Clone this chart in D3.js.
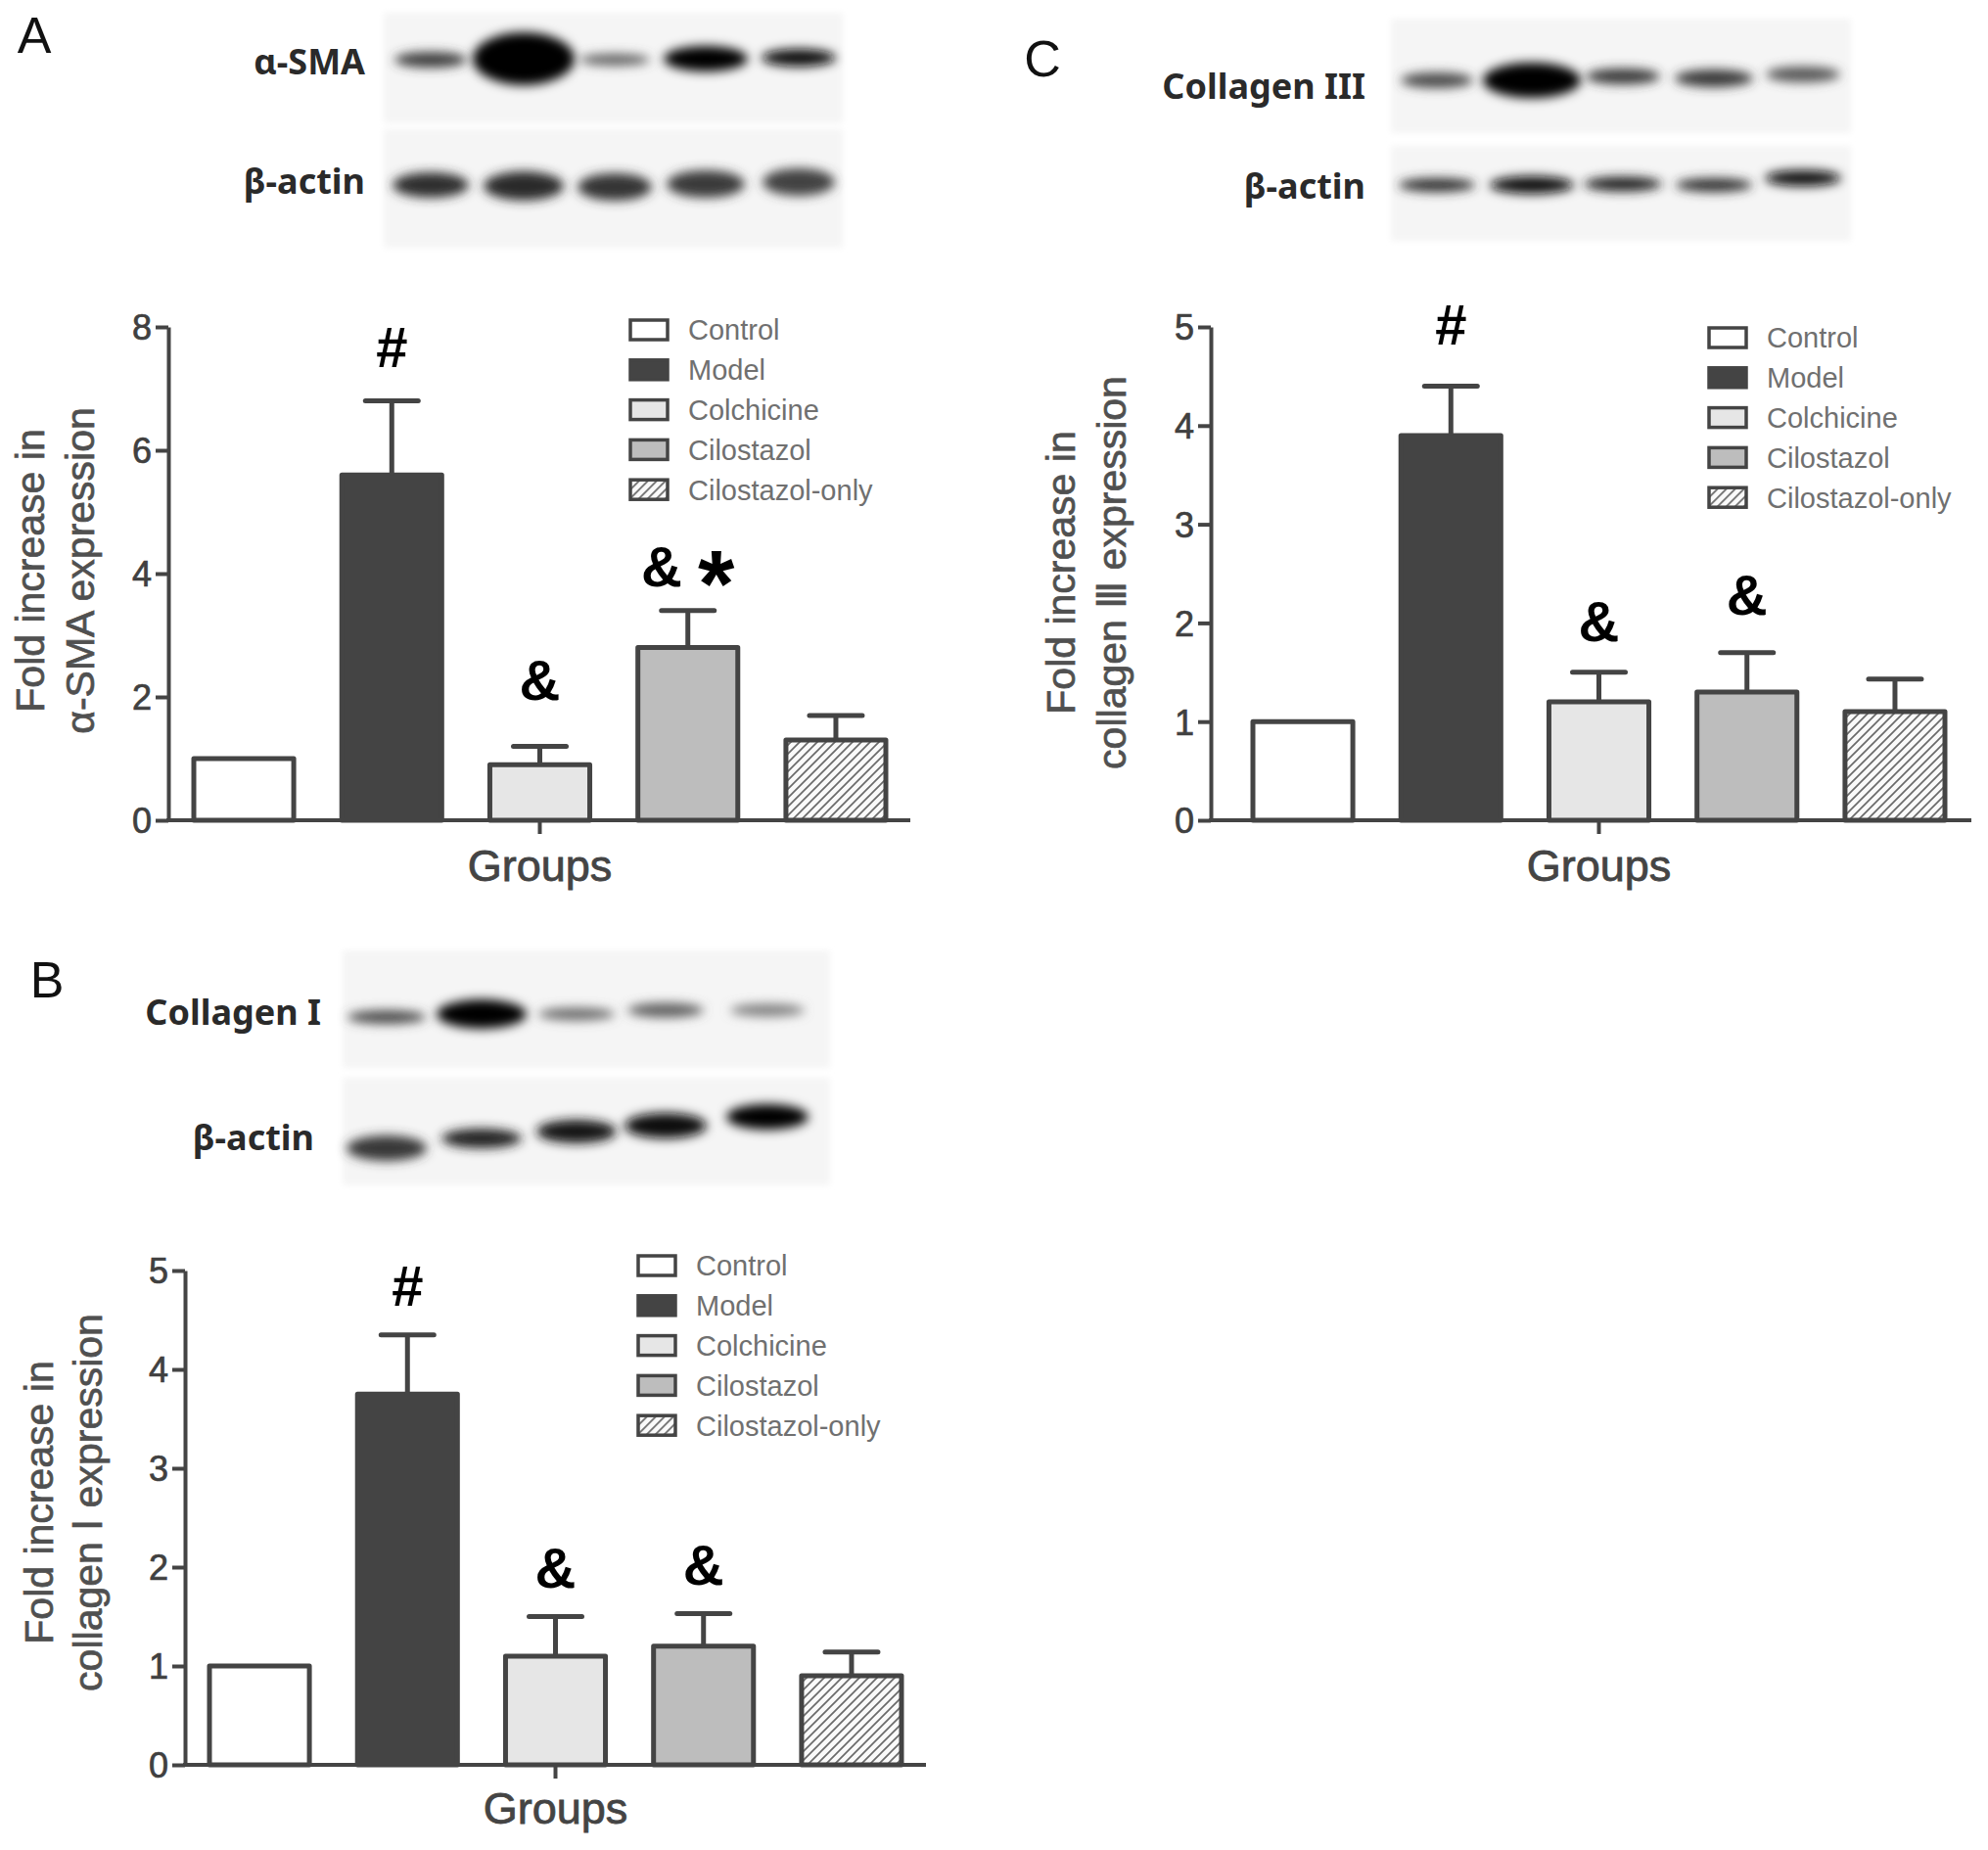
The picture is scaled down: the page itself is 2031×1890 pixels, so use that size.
<!DOCTYPE html>
<html>
<head>
<meta charset="utf-8">
<script src="https://cdn.jsdelivr.net/npm/d3@7"></script>
<style>
  html, body { margin: 0; padding: 0; background: #fff; }
  svg { display: block; }
</style>
</head>
<body>
<svg id="fig" width="2031" height="1890"></svg>
<script>
// ---------------- DATA ----------------
const groups = ["Control", "Model", "Colchicine", "Cilostazol", "Cilostazol-only"];

const smaMeans = [1.0, 5.6, 0.9, 2.8, 1.3];
const smaSem   = [0.0, 1.2, 0.3, 0.6, 0.4];
const smaTicks = [0, 2, 4, 6, 8];
const smaMarks = ["", "#", "&", "& *", ""];
const smaMarkLevels = [null, 7.35, 1.95, 3.8, null];

const col1Means = [1.0, 3.75, 1.1, 1.2, 0.9];
const col1Sem   = [0.0, 0.6, 0.4, 0.33, 0.24];
const col1Ticks = [0, 1, 2, 3, 4, 5];
const col1Marks = ["", "#", "&", "&", ""];
const col1MarkLevels = [null, 4.64, 1.79, 1.82, null];

const col3Means = [1.0, 3.9, 1.2, 1.3, 1.1];
const col3Sem   = [0.0, 0.5, 0.3, 0.4, 0.33];
const col3Ticks = [0, 1, 2, 3, 4, 5];
const col3Marks = ["", "#", "&", "&", ""];
const col3MarkLevels = [null, 4.82, 1.82, 2.08, null];

// western blot band intensities (relative darkness 0..1)
const smaBands      = [0.72, 1.0, 0.55, 1.0, 0.95];
const smaActin      = [0.8, 0.82, 0.76, 0.74, 0.7];
const col1Bands     = [0.65, 1.0, 0.5, 0.55, 0.4];
const col1Actin     = [0.75, 0.85, 0.9, 0.95, 1.0];
const col3Bands     = [0.65, 1.0, 0.75, 0.75, 0.6];
const col3Actin     = [0.8, 0.95, 0.85, 0.8, 0.95];

// ---------------- STYLE ----------------
const fills = ["#ffffff", "#444444", "#e6e6e6", "#bdbdbd", "url(#hatch)"];
const ink = "#444444";
const fontSans = "'Liberation Sans', Arial, Helvetica, sans-serif";
const fontBlot = "'Noto Sans', 'Open Sans', sans-serif";

const svg = d3.select("#fig");
svg.append("rect").attr("width", 2031).attr("height", 1890).attr("fill", "#fff");

const defs = svg.append("defs");
const pat = defs.append("pattern").attr("id", "hatch")
  .attr("patternUnits", "userSpaceOnUse").attr("width", 9).attr("height", 9);
pat.append("rect").attr("width", 9).attr("height", 9).attr("fill", "#fafafa");
pat.append("path").attr("d", "M-2,2 l4,-4 M0,9 l9,-9 M7,11 l4,-4")
  .attr("stroke", "#6a6a6a").attr("stroke-width", 1.7);

defs.append("filter").attr("id", "blur").attr("x", "-50%").attr("y", "-100%")
  .attr("width", "200%").attr("height", "300%")
  .append("feGaussianBlur").attr("stdDeviation", 5.5);
defs.append("filter").attr("id", "blurS").attr("x", "-20%").attr("y", "-20%")
  .attr("width", "140%").attr("height", "140%")
  .append("feGaussianBlur").attr("stdDeviation", 3);

// ---------------- PANELS ----------------
const panels = [
  {
    letter: "A", letterX: 35, letterY: 54,
    means: smaMeans, sem: smaSem, ticks: smaTicks, marks: smaMarks, markLevels: smaMarkLevels,
    axisX: 172, xEnd: 930, yTop: 334, yBot: 838, max: 8, band: [198, 905],
    legendX: 644, legendY: 337,
    titleLines: ["Fold increase in", "α-SMA expression"], titleX: [45, 96], titleCY: 583,
    groupsY: 900,
    blot: {
      x: 392, w: 469,
      strips: [{ y: 13, h: 113 }, { y: 132, h: 121 }],
      labels: [{ t: "α-SMA", x: 373, y: 76 }, { t: "β-actin", x: 373, y: 198 }],
      lanes: [440, 535, 628, 721, 816],
      rows: [
        { vals: smaBands, cy: [61, 60, 61, 60, 59], w: [74, 104, 72, 86, 76], h: [16, 54, 12, 26, 18] },
        { vals: smaActin, cy: [189, 190, 191, 188, 186], w: [78, 82, 76, 80, 74], h: [26, 30, 28, 28, 28] }
      ]
    }
  },
  {
    letter: "C", letterX: 1065, letterY: 78,
    means: col3Means, sem: col3Sem, ticks: col3Ticks, marks: col3Marks, markLevels: col3MarkLevels,
    axisX: 1237, xEnd: 2014, yTop: 334, yBot: 838, max: 5, band: [1280, 1987],
    legendX: 1746, legendY: 345,
    titleLines: ["Fold increase in", "collagen Ⅲ expression"], titleX: [1098, 1150], titleCY: 585,
    groupsY: 900,
    blot: {
      x: 1421, w: 470,
      strips: [{ y: 19, h: 117 }, { y: 149, h: 97 }],
      labels: [{ t: "Collagen III", x: 1395, y: 101 }, { t: "β-actin", x: 1395, y: 203 }],
      lanes: [1468, 1565, 1658, 1751, 1842],
      rows: [
        { vals: col3Bands, cy: [82, 82, 78, 80, 76], w: [74, 100, 76, 80, 76], h: [16, 36, 16, 18, 16] },
        { vals: col3Actin, cy: [189, 189, 188, 189, 182], w: [78, 86, 80, 78, 78], h: [14, 18, 15, 14, 16] }
      ]
    }
  },
  {
    letter: "B", letterX: 48, letterY: 1019,
    means: col1Means, sem: col1Sem, ticks: col1Ticks, marks: col1Marks, markLevels: col1MarkLevels,
    axisX: 189, xEnd: 946, yTop: 1298, yBot: 1803, max: 5, band: [214, 921],
    legendX: 652, legendY: 1293,
    titleLines: ["Fold increase in", "collagen Ⅰ expression"], titleX: [54, 104], titleCY: 1535,
    groupsY: 1863,
    blot: {
      x: 350, w: 498,
      strips: [{ y: 971, h: 120 }, { y: 1101, h: 110 }],
      labels: [{ t: "Collagen I", x: 328, y: 1047 }, { t: "β-actin", x: 321, y: 1175 }],
      lanes: [395, 492, 589, 680, 784],
      rows: [
        { vals: col1Bands, cy: [1039, 1036, 1036, 1032, 1032], w: [80, 92, 78, 78, 76], h: [14, 30, 13, 15, 13] },
        { vals: col1Actin, cy: [1173, 1163, 1156, 1150, 1141], w: [82, 82, 82, 84, 84], h: [26, 20, 24, 26, 26] }
      ]
    }
  }
];

panels.forEach(p => {
  const g = svg.append("g");

  // panel letter
  g.append("text").attr("x", p.letterX).attr("y", p.letterY)
    .attr("text-anchor", "middle").attr("font-family", fontSans)
    .attr("font-size", 52).attr("fill", "#111").text(p.letter);

  // ---- western blot ----
  const b = p.blot;
  b.strips.forEach(s => {
    g.append("rect").attr("x", b.x).attr("y", s.y).attr("width", b.w).attr("height", s.h)
      .attr("fill", "#f5f5f5").attr("filter", "url(#blurS)");
  });
  b.rows.forEach(r => {
    r.vals.forEach((v, i) => {
      g.append("ellipse")
        .attr("cx", b.lanes[i]).attr("cy", r.cy[i])
        .attr("rx", r.w[i] / 2).attr("ry", r.h[i] / 2)
        .attr("fill", d3.interpolateRgb("#d0d0d0", "#050505")(v))
        .attr("filter", "url(#blur)");
    });
  });
  b.labels.forEach(l => {
    g.append("text").attr("x", l.x).attr("y", l.y).attr("text-anchor", "end")
      .attr("font-family", fontBlot).attr("font-weight", "bold")
      .attr("font-size", 36).attr("fill", "#2a2a2a").text(l.t);
  });

  // ---- scales ----
  const x = d3.scaleBand().domain(groups).range(p.band).paddingInner(0.325).paddingOuter(0);
  const y = d3.scaleLinear().domain([0, p.max]).range([p.yBot, p.yTop]);

  // bars
  g.selectAll(".bar").data(p.means).enter().append("rect")
    .attr("x", (d, i) => x(groups[i]))
    .attr("y", d => y(d))
    .attr("width", x.bandwidth())
    .attr("height", d => y(0) - y(d))
    .attr("fill", (d, i) => fills[i])
    .attr("stroke", ink).attr("stroke-width", 5).attr("stroke-linejoin", "round");

  // error bars
  const cap = 54;
  p.means.forEach((m, i) => {
    if (!p.sem[i]) return;
    const cx = x(groups[i]) + x.bandwidth() / 2;
    g.append("line").attr("x1", cx).attr("x2", cx)
      .attr("y1", y(m)).attr("y2", y(m + p.sem[i]))
      .attr("stroke", ink).attr("stroke-width", 5);
    g.append("line").attr("x1", cx - cap / 2).attr("x2", cx + cap / 2)
      .attr("y1", y(m + p.sem[i])).attr("y2", y(m + p.sem[i]))
      .attr("stroke", ink).attr("stroke-width", 5).attr("stroke-linecap", "round");
  });

  // significance marks
  p.marks.forEach((t, i) => {
    if (!t) return;
    const cx = x(groups[i]) + x.bandwidth() / 2;
    const txt = g.append("text").attr("x", cx).attr("y", y(p.markLevels[i]))
      .attr("text-anchor", "middle").attr("font-family", fontSans)
      .attr("font-weight", "bold").attr("font-size", 58).attr("fill", "#000")
      .attr("xml:space", "preserve");
    t.split("").forEach(ch => {
      if (ch === "*") {
        txt.append("tspan").attr("font-size", 96).attr("dy", 30).text(ch);
      } else {
        txt.append("tspan").text(ch);
      }
    });
  });

  // y axis
  const yAxis = d3.axisLeft(y).tickValues(p.ticks).tickFormat(d3.format("d"))
    .tickSize(13).tickSizeOuter(0).tickPadding(4);
  const ya = g.append("g").attr("transform", `translate(${p.axisX},0)`).call(yAxis);
  ya.select(".domain").attr("stroke", ink).attr("stroke-width", 4);
  ya.selectAll(".tick line").attr("stroke", ink).attr("stroke-width", 4);
  ya.selectAll(".tick text").attr("font-family", fontSans).attr("font-size", 36)
    .attr("fill", "#404040").attr("stroke", "#404040").attr("stroke-width", 0.7)
    .attr("dy", "0.36em");

  // x axis
  g.append("line").attr("x1", p.axisX - 2).attr("x2", p.xEnd)
    .attr("y1", y(0)).attr("y2", y(0)).attr("stroke", ink).attr("stroke-width", 4);
  const midX = x(groups[2]) + x.bandwidth() / 2;
  g.append("line").attr("x1", midX).attr("x2", midX)
    .attr("y1", y(0)).attr("y2", y(0) + 14).attr("stroke", ink).attr("stroke-width", 4);
  g.append("text").attr("x", midX).attr("y", p.groupsY).attr("text-anchor", "middle")
    .attr("font-family", fontSans).attr("font-size", 45).attr("fill", "#444")
    .attr("stroke", "#444").attr("stroke-width", 0.8).text("Groups");

  // y title
  p.titleLines.forEach((t, k) => {
    g.append("text")
      .attr("transform", `translate(${p.titleX[k]},${p.titleCY}) rotate(-90)`)
      .attr("text-anchor", "middle").attr("font-family", fontSans)
      .attr("font-size", 41).attr("fill", "#505050")
      .attr("stroke", "#505050").attr("stroke-width", 0.7).text(t);
  });

  // legend
  const lg = g.append("g").attr("transform", `translate(${p.legendX},${p.legendY})`);
  groups.forEach((name, i) => {
    const row = lg.append("g").attr("transform", `translate(0,${i * 40.8})`);
    row.append("rect").attr("x", 0).attr("y", -10).attr("width", 38).attr("height", 20)
      .attr("fill", fills[i]).attr("stroke", ink).attr("stroke-width", 3.5);
    row.append("text").attr("x", 59).attr("y", 0).attr("dy", "0.36em")
      .attr("font-family", fontSans).attr("font-size", 29).attr("fill", "#707070").text(name);
  });
});
</script>
</body>
</html>
